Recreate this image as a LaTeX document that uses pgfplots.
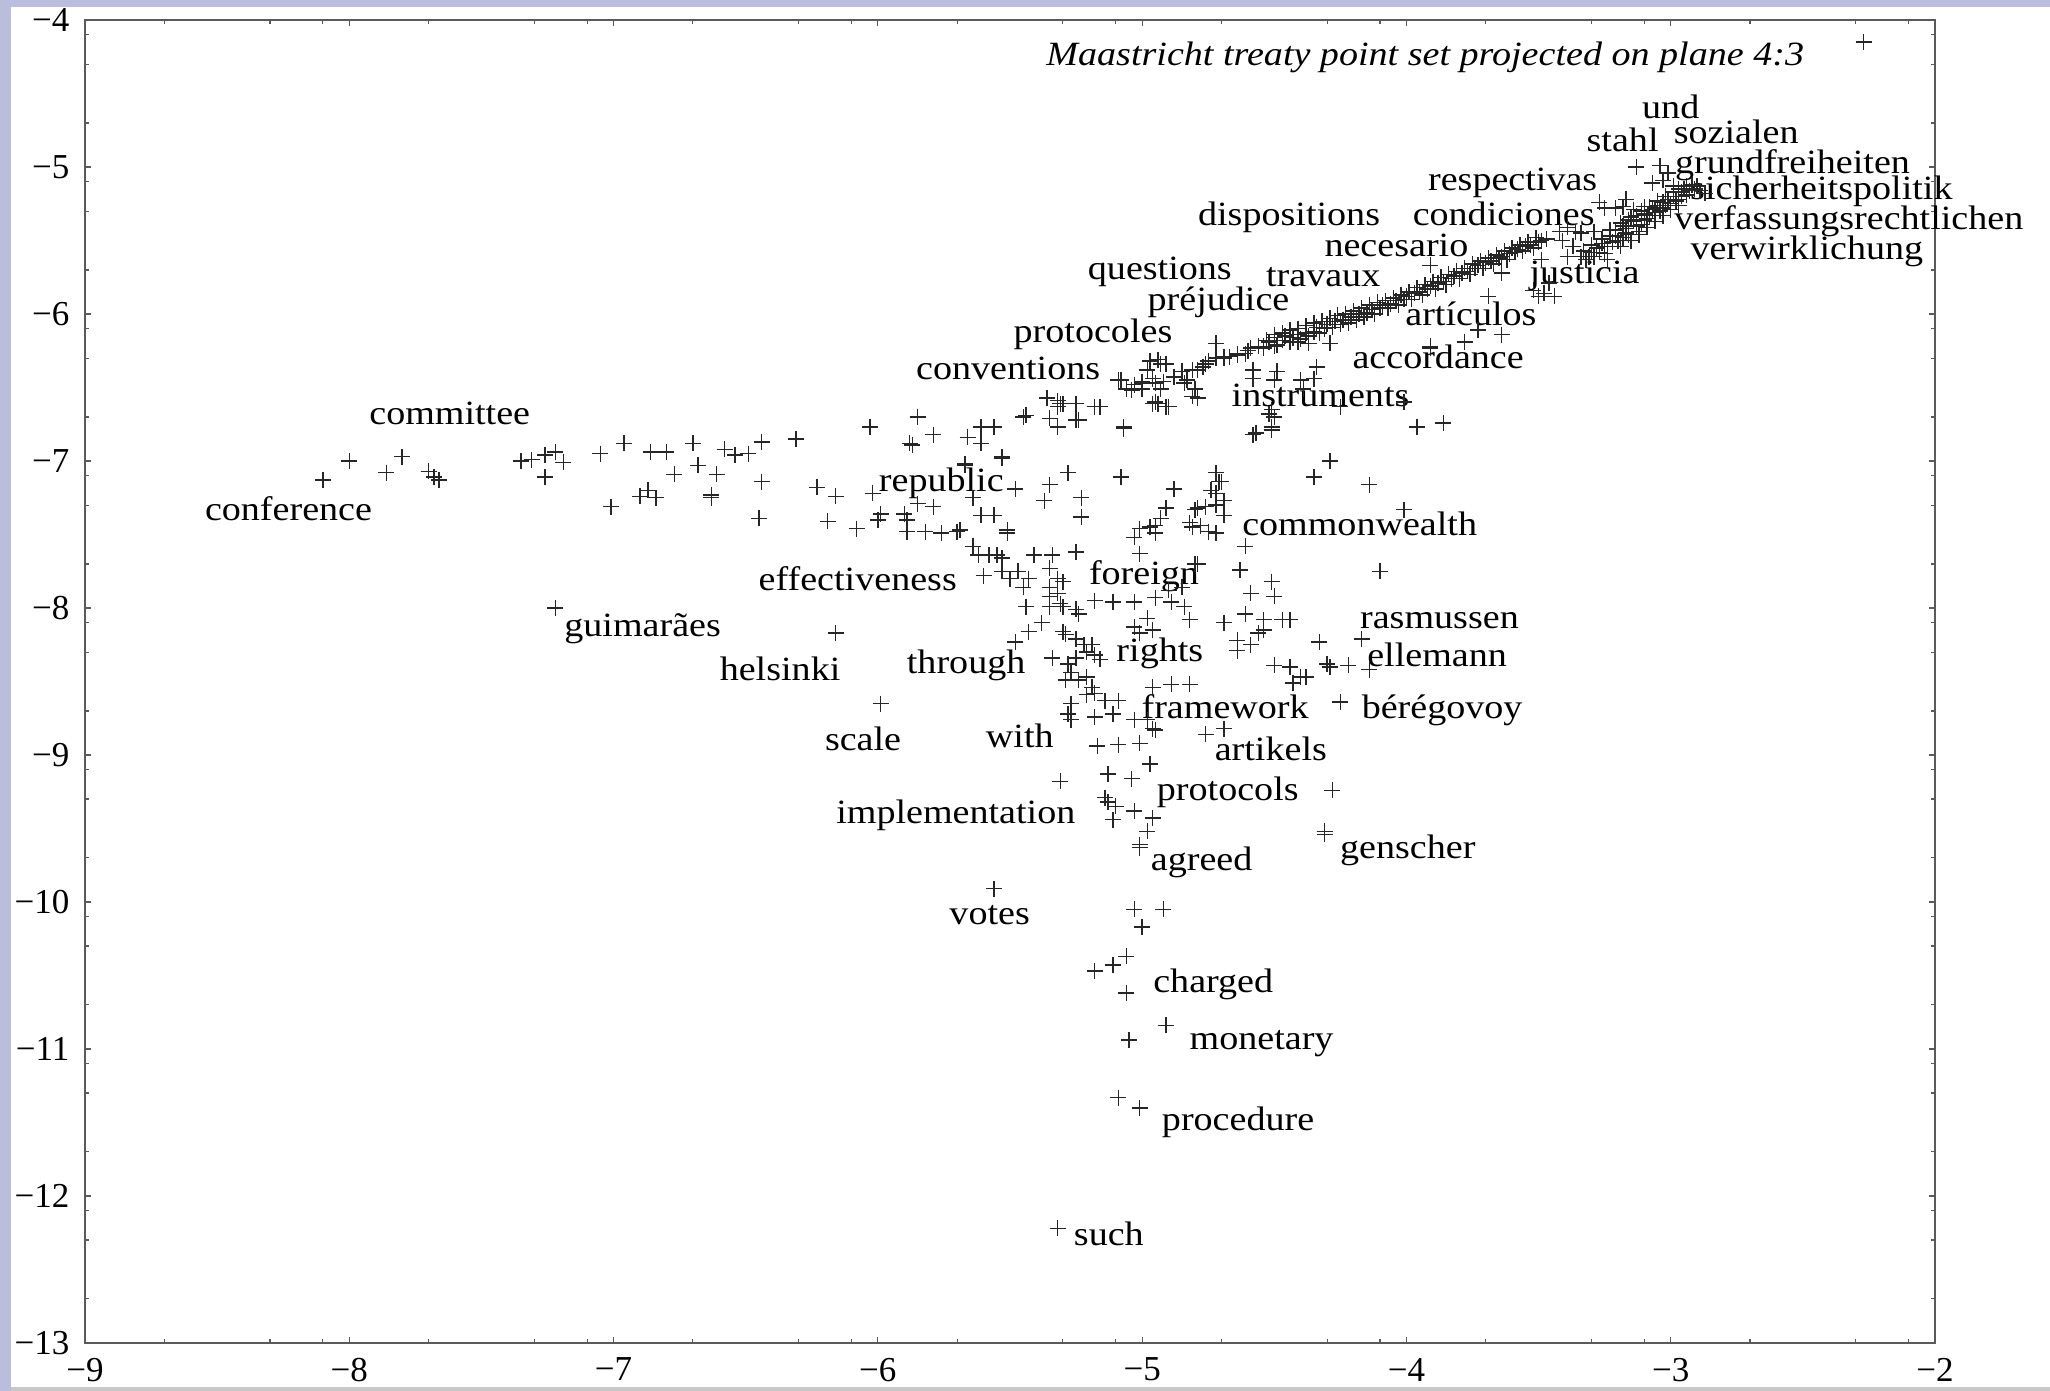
\documentclass[border=0pt]{standalone}
\usepackage{fontspec}
\setmainfont{Liberation Serif}
\newfontfamily\lbl{Liberation Serif}[FakeStretch=1.12]
\usepackage{pgfplots}
\pgfplotsset{compat=1.18}
\definecolor{lav}{RGB}{184,190,220}
\definecolor{axgray}{RGB}{90,90,90}
\begin{document}
\begin{tikzpicture}
\path[use as bounding box] (0,0) rectangle (1025pt,695.5pt);
\fill[lav] (0,0) rectangle (1025pt,695.5pt);
\fill[white] (5.5pt,2pt) rectangle (1025pt,692pt);
\fill[black!22] (5.5pt,0) rectangle (1025pt,2pt);
\begin{axis}[
  at={(42.5pt,24pt)}, anchor=south west,
  scale only axis, width=925pt, height=661.5pt,
  xmin=-9, xmax=-2, ymin=-13, ymax=-4,
  clip=false,
  axis line style={draw=axgray, line width=0.8pt},
  tick style={draw=axgray, line width=0.6pt},
  tick align=inside,
  major tick length=3pt, minor tick length=2pt,
  xtick={-9,-8,-7,-6,-5,-4,-3,-2},
  xticklabels={−9,−8,−7,−6,−5,−4,−3,−2},
  ytick={-13,-12,-11,-10,-9,-8,-7,-6,-5,-4},
  yticklabels={−13,−12,−11,−10,−9,−8,−7,−6,−5,−4},
  minor xtick={-8.7,-8.3,-8.1,-7.7,-7.3,-7.1,-6.7,-6.3,-6.1,-5.7,-5.3,-5.1,-4.7,-4.3,-4.1,-3.7,-3.3,-3.1,-2.7,-2.3,-2.1},
  minor ytick={-12.7,-12.3,-12.1,-11.7,-11.3,-11.1,-10.7,-10.3,-10.1,-9.7,-9.3,-9.1,-8.7,-8.3,-8.1,-7.7,-7.3,-7.1,-6.7,-6.3,-6.1,-5.7,-5.3,-5.1,-4.7,-4.3,-4.1},
  xticklabel style={font=\fontsize{17.5}{17.5}\selectfont, text=black, yshift=-4pt},
  yticklabel style={font=\fontsize{17.5}{17.5}\selectfont, text=black, xshift=-4.3pt},
]
\addplot[only marks, mark=+, mark size=4pt, mark options={line width=0.72pt, draw=black!85}] coordinates {
(-8.10,-7.13) (-8.00,-7.00) (-7.86,-7.08) (-7.80,-6.97) (-7.70,-7.07) (-7.68,-7.11) (-7.66,-7.13)
(-7.35,-7.00) (-7.31,-6.99) (-7.26,-6.96) (-7.22,-6.94) (-7.19,-7.01) (-7.26,-7.11)
(-7.05,-6.95) (-6.96,-6.88) (-6.86,-6.94) (-6.80,-6.94) (-6.70,-6.88) (-6.58,-6.92) (-6.54,-6.96) (-6.49,-6.95) (-6.44,-6.87) (-6.31,-6.85) (-6.03,-6.77)
(-6.77,-7.09) (-6.68,-7.03) (-6.61,-7.09) (-6.44,-7.14)
(-7.01,-7.31) (-6.90,-7.24) (-6.87,-7.20) (-6.84,-7.25) (-6.63,-7.23) (-6.63,-7.25)
(-6.45,-7.39) (-6.23,-7.18) (-6.16,-7.24) (-6.19,-7.41) (-6.08,-7.46) (-6.02,-7.22)
(-7.22,-8.00) (-6.16,-8.17) (-5.99,-8.65)
(-5.85,-6.70) (-5.88,-6.88) (-5.87,-6.89) (-5.79,-6.82) (-5.66,-6.84) (-5.61,-6.77) (-5.56,-6.77) (-5.61,-6.88) (-5.53,-6.97) (-5.67,-7.03) (-5.45,-6.70) (-5.44,-6.69)
(-5.36,-6.57) (-5.32,-6.59) (-5.32,-6.63) (-5.30,-6.61) (-5.25,-6.61) (-5.16,-6.63)
(-5.35,-6.71) (-5.32,-6.77) (-5.24,-6.72) (-5.07,-6.78)
(-5.09,-6.45) (-5.06,-6.51) (-5.03,-6.48) (-5.00,-6.46) (-5.00,-6.51) (-4.96,-6.44) (-4.95,-6.47) (-4.93,-6.51) (-4.92,-6.46)
(-4.97,-6.32) (-4.93,-6.34) (-4.95,-6.60) (-4.90,-6.63) (-4.96,-6.61)
(-4.88,-6.43) (-4.85,-6.39) (-4.83,-6.45) (-4.81,-6.38) (-4.80,-6.51) (-4.79,-6.57)
(-4.77,-6.36) (-4.75,-6.32) (-4.72,-6.30) (-4.69,-6.30) (-4.67,-6.29) (-4.64,-6.28) (-4.61,-6.27) (-4.60,-6.25) (-4.59,-6.23) (-4.56,-6.22) (-4.54,-6.23) (-4.72,-6.20)
(-4.94,-6.31) (-4.91,-6.34) (-4.98,-6.38) (-5.08,-6.45) (-5.00,-6.47) (-5.04,-6.52) (-4.84,-6.47) (-4.79,-6.38) (-4.76,-6.34) (-4.69,-6.29) (-4.64,-6.27)
(-4.94,-6.61) (-4.91,-6.63) (-4.81,-6.56) (-5.07,-6.77) (-5.31,-6.61) (-5.25,-6.72) (-5.18,-6.63)
(-4.52,-6.68) (-4.50,-6.70) (-4.57,-6.81) (-4.51,-6.77) (-4.25,-6.63) (-3.96,-6.77) (-3.86,-6.74)
(-4.47,-6.13) (-4.50,-6.22) (-4.41,-6.19) (-4.37,-6.20) (-4.29,-6.20) (-4.34,-6.36) (-4.40,-6.45) (-4.49,-6.39) (-4.58,-6.38)
(-4.58,-6.44) (-4.50,-6.45) (-4.35,-6.44) (-4.39,-6.51)
(-4.01,-6.60) (-3.91,-6.22) (-3.73,-6.11) (-3.64,-6.14) (-3.78,-6.19) (-3.91,-6.23)
(-4.29,-7.00) (-4.35,-7.11) (-4.14,-7.16) (-4.01,-7.33) (-4.10,-7.75)
(-4.54,-6.22) (-4.52,-6.19) (-4.50,-6.16) (-4.49,-6.21) (-4.47,-6.18) (-4.46,-6.15) (-4.44,-6.19) (-4.43,-6.16) (-4.41,-6.14) (-4.40,-6.17) (-4.38,-6.13) (-4.37,-6.15) (-4.35,-6.12) (-4.34,-6.09) (-4.33,-6.13) (-4.31,-6.10) (-4.30,-6.07) (-4.28,-6.09) (-4.27,-6.05) (-4.25,-6.07) (-4.24,-6.04) (-4.22,-6.06) (-4.21,-6.02) (-4.19,-6.04) (-4.18,-6.00) (-4.16,-6.02) (-4.15,-5.99) (-4.13,-5.97) (-4.12,-6.00) (-4.10,-5.96) (-4.09,-5.94) (-4.07,-5.96) (-4.06,-5.93) (-4.04,-5.91) (-4.03,-5.94) (-4.01,-5.90) (-4.00,-5.88) (-3.98,-5.90) (-3.97,-5.86) (-3.95,-5.85) (-3.94,-5.87) (-3.92,-5.83) (-3.91,-5.81) (-3.89,-5.83) (-3.88,-5.79) (-3.86,-5.78) (-3.85,-5.80) (-3.83,-5.76) (-3.82,-5.74) (-3.80,-5.76) (-3.79,-5.72) (-3.77,-5.71) (-3.76,-5.73) (-3.74,-5.69) (-3.73,-5.67) (-3.71,-5.69) (-3.70,-5.65) (-3.68,-5.64) (-3.67,-5.66) (-3.65,-5.62) (-3.64,-5.61) (-3.62,-5.63) (-3.61,-5.59) (-3.59,-5.58) (-3.58,-5.56) (-3.56,-5.57) (-3.55,-5.54) (-3.53,-5.53) (-3.52,-5.55) (-3.50,-5.51) (-3.49,-5.50) (-3.47,-5.49)
(-4.53,-6.18) (-4.50,-6.14) (-4.47,-6.13) (-4.44,-6.11) (-4.41,-6.10) (-4.38,-6.08) (-4.35,-6.06) (-4.32,-6.05) (-4.29,-6.03) (-4.26,-6.01) (-4.23,-6.00) (-4.20,-5.98) (-4.17,-5.96) (-4.14,-5.94) (-4.11,-5.92) (-4.08,-5.91) (-4.05,-5.89) (-4.02,-5.87) (-3.99,-5.85) (-3.96,-5.82) (-3.93,-5.80) (-3.90,-5.78) (-3.87,-5.75) (-3.84,-5.73) (-3.81,-5.71) (-3.78,-5.69) (-3.75,-5.66) (-3.72,-5.64) (-3.69,-5.62) (-3.66,-5.60) (-3.63,-5.57) (-3.60,-5.55) (-3.57,-5.53) (-3.54,-5.51) (-3.51,-5.48)
(-3.39,-5.41) (-3.34,-5.45) (-3.29,-5.44) (-3.41,-5.50) (-3.25,-5.54) (-3.33,-5.57) (-3.25,-5.59) (-3.31,-5.61) (-3.39,-5.61) (-3.42,-5.44) (-3.36,-5.44) (-3.37,-5.54) (-3.30,-5.53) (-3.34,-5.61) (-3.29,-5.61) (-3.24,-5.63) (-3.32,-5.63)
(-3.49,-5.63) (-3.46,-5.79) (-3.48,-5.86) (-3.44,-5.88) (-3.52,-5.84) (-3.50,-5.88) (-3.64,-5.72) (-3.69,-5.88) (-3.91,-5.67)
(-3.24,-5.54) (-3.19,-5.54) (-3.15,-5.50) (-3.12,-5.44) (-3.21,-5.47) (-3.17,-5.45) (-3.23,-5.43) (-3.19,-5.38) (-3.17,-5.42) (-3.15,-5.34) (-3.14,-5.37) (-3.14,-5.29) (-3.10,-5.36) (-3.10,-5.32) (-3.10,-5.27) (-3.06,-5.28) (-3.03,-5.28) (-3.03,-5.24) (-2.99,-5.20) (-2.96,-5.20) (-2.96,-5.17) (-2.92,-5.12) (-2.89,-5.16) (-2.87,-5.18)
(-3.08,-5.33) (-3.06,-5.31) (-3.04,-5.30) (-3.02,-5.26) (-3.00,-5.25) (-2.98,-5.23) (-2.97,-5.22) (-2.94,-5.19) (-2.93,-5.16) (-2.91,-5.15) (-3.13,-5.40) (-3.11,-5.39) (-3.09,-5.35) (-3.20,-5.50) (-3.18,-5.48) (-3.16,-5.46) (-3.27,-5.58) (-3.26,-5.52) (-3.22,-5.51) (-3.05,-5.26) (-3.01,-5.22) (-2.95,-5.15) (-2.90,-5.13) (-3.07,-5.29)
(-3.30,-5.58) (-3.28,-5.55) (-3.26,-5.49) (-3.23,-5.47) (-3.21,-5.43) (-3.18,-5.40) (-3.16,-5.36) (-3.13,-5.33) (-3.11,-5.30) (-3.08,-5.27) (-3.05,-5.23) (-3.02,-5.20) (-2.99,-5.17) (-2.97,-5.15) (-2.94,-5.13) (-3.12,-5.46) (-3.09,-5.41) (-3.06,-5.37) (-3.03,-5.33) (-3.00,-5.29) (-2.97,-5.26)
(-3.25,-5.28) (-3.18,-5.27) (-3.17,-5.22) (-3.27,-5.24) (-3.21,-5.28) (-3.13,-5.00) (-3.04,-4.99) (-3.07,-5.11) (-3.03,-5.09) (-3.01,-5.04) (-2.99,-5.13) (-2.27,-4.15)
(-4.72,-7.08) (-4.71,-7.14) (-4.74,-7.20) (-4.72,-7.22) (-4.69,-7.27) (-4.72,-7.30) (-4.69,-7.37) (-4.76,-7.31) (-4.80,-7.33) (-4.81,-7.45) (-4.78,-7.44) (-4.75,-7.48) (-4.72,-7.49) (-4.79,-7.70)
(-4.70,-7.14) (-4.79,-7.32) (-4.82,-7.42)
(-4.88,-7.19) (-4.91,-7.32) (-4.93,-7.39) (-4.95,-7.44) (-4.97,-7.45) (-5.01,-7.46) (-5.03,-7.52) (-5.01,-7.63) (-4.95,-7.49)
(-5.08,-7.11) (-5.23,-7.25) (-5.23,-7.38) (-5.28,-7.08) (-5.35,-7.16) (-5.37,-7.27) (-5.48,-7.19) (-5.53,-6.98) (-5.61,-7.37) (-5.56,-7.37) (-5.64,-7.25) (-5.67,-7.02)
(-5.51,-7.47) (-5.51,-7.49) (-5.79,-7.31) (-5.85,-7.29)
(-5.99,-7.36) (-6.00,-7.40) (-5.90,-7.36) (-5.89,-7.40) (-5.89,-7.48)
(-5.82,-7.48) (-5.76,-7.49) (-5.70,-7.48) (-5.69,-7.47)
(-5.64,-7.58) (-5.62,-7.64) (-5.58,-7.64) (-5.55,-7.64) (-5.53,-7.66)
(-5.60,-7.78) (-5.53,-7.75) (-5.50,-7.80) (-5.47,-7.75) (-5.43,-7.80) (-5.45,-7.86) (-5.41,-7.64) (-5.34,-7.64) (-5.35,-7.73) (-5.25,-7.62) (-5.32,-7.80) (-5.35,-7.86) (-5.30,-7.82) (-5.32,-7.90) (-5.35,-7.92) (-5.31,-7.97) (-5.30,-7.99) (-5.25,-8.01) (-5.24,-8.04)
(-5.44,-7.99) (-5.38,-8.10) (-5.43,-8.16) (-5.48,-8.23) (-5.35,-7.99) (-5.30,-8.16) (-5.29,-8.18) (-5.25,-8.21) (-5.22,-8.25) (-5.21,-8.30) (-5.19,-8.25) (-5.18,-8.32) (-5.16,-8.35) (-5.25,-8.34)
(-5.34,-8.34) (-5.28,-8.38) (-5.27,-8.44) (-5.29,-8.49) (-5.24,-8.49) (-5.21,-8.47) (-5.19,-8.54) (-5.21,-8.59) (-5.18,-8.58) (-5.14,-8.63) (-5.09,-8.63) (-5.27,-8.65) (-5.28,-8.72) (-5.27,-8.76) (-5.18,-8.74) (-5.11,-8.72) (-5.03,-8.76) (-4.98,-8.76) (-4.96,-8.82) (-4.95,-8.83)
(-5.18,-7.95) (-5.11,-7.96) (-5.03,-7.96) (-4.95,-7.93) (-4.89,-7.96) (-4.84,-7.99) (-4.85,-7.86) (-4.90,-7.88)
(-5.03,-8.13) (-4.98,-8.07) (-4.96,-8.15) (-5.01,-8.17) (-4.82,-8.08) (-4.69,-8.10) (-4.61,-8.04)
(-4.80,-7.70) (-4.63,-7.74) (-4.61,-7.58)
(-4.59,-7.90) (-4.51,-7.82) (-4.50,-7.92) (-4.47,-8.08) (-4.54,-8.15) (-4.56,-8.17) (-4.64,-8.22) (-4.59,-8.25) (-4.64,-8.29) (-4.54,-8.08) (-4.44,-8.08)
(-4.33,-8.23) (-4.30,-8.38) (-4.22,-8.39) (-4.17,-8.21) (-4.14,-8.42) (-4.50,-8.39) (-4.44,-8.40) (-4.38,-8.47) (-4.43,-8.51) (-4.40,-8.47) (-4.29,-8.40)
(-4.25,-8.64)
(-4.96,-8.54) (-4.89,-8.52) (-4.82,-8.52)
(-5.17,-8.94) (-5.09,-8.93) (-5.01,-8.92) (-4.76,-8.86) (-4.69,-8.82)
(-4.58,-6.82) (-4.51,-6.79) (-4.51,-6.65)
(-4.97,-9.06) (-5.13,-9.13) (-5.04,-9.16) (-5.31,-9.18) (-4.28,-9.24) (-5.14,-9.29) (-5.13,-9.32) (-5.10,-9.35) (-5.03,-9.38) (-4.96,-9.43) (-5.11,-9.44) (-4.98,-9.52) (-5.01,-9.61) (-5.01,-9.63) (-4.31,-9.54) (-4.31,-9.52)
(-5.56,-9.91) (-5.03,-10.05) (-4.92,-10.05) (-5.00,-10.17) (-5.18,-10.47) (-5.11,-10.43) (-5.06,-10.37) (-5.06,-10.62) (-4.91,-10.84) (-5.05,-10.94) (-5.09,-11.33) (-5.01,-11.40) (-5.32,-12.22)
};
\begin{scope}[every node/.style={font=\lbl\fontsize{17}{17}\selectfont, inner sep=0pt, text height=0.68em, text depth=0.2em, anchor=center, yshift=-3.2pt}]
\node at (axis cs:-3.929,-4.231) {\itshape Maastricht treaty point set projected on plane 4:3};
\node at (axis cs:-7.62,-6.675) {committee};
\node at (axis cs:-8.23,-7.33) {conference};
\node at (axis cs:-5.76,-7.13) {republic};
\node at (axis cs:-6.076,-7.807) {effectiveness};
\node at (axis cs:-4.993,-7.762) {foreign};
\node at (axis cs:-6.89,-8.115) {guimarães};
\node at (axis cs:-6.37,-8.42) {helsinki};
\node at (axis cs:-5.666,-8.367) {through};
\node at (axis cs:-4.933,-8.287) {rights};
\node at (axis cs:-4.177,-7.433) {commonwealth};
\node at (axis cs:-3.875,-8.064) {rasmussen};
\node at (axis cs:-3.884,-8.322) {ellemann};
\node at (axis cs:-4.686,-8.678) {framework};
\node at (axis cs:-3.865,-8.678) {bérégovoy};
\node at (axis cs:-6.056,-8.892) {scale};
\node at (axis cs:-5.463,-8.874) {with};
\node at (axis cs:-4.513,-8.963) {artikels};
\node at (axis cs:-4.676,-9.23) {protocols};
\node at (axis cs:-5.705,-9.39) {implementation};
\node at (axis cs:-3.995,-9.63) {genscher};
\node at (axis cs:-4.775,-9.71) {agreed};
\node at (axis cs:-5.577,-10.074) {votes};
\node at (axis cs:-4.731,-10.537) {charged};
\node at (axis cs:-4.548,-10.928) {monetary};
\node at (axis cs:-4.637,-11.48) {procedure};
\node at (axis cs:-5.126,-12.262) {such};
\node at (axis cs:-3.0,-4.596) {und};
\node at (axis cs:-3.182,-4.818) {stahl};
\node at (axis cs:-2.752,-4.765) {sozialen};
\node at (axis cs:-2.539,-4.97) {grundfreiheiten};
\node at (axis cs:-2.43,-5.147) {sicherheitspolitik};
\node at (axis cs:-2.326,-5.352) {verfassungsrechtlichen};
\node at (axis cs:-2.485,-5.556) {verwirklichung};
\node at (axis cs:-3.598,-5.085) {respectivas};
\node at (axis cs:-4.444,-5.325) {dispositions};
\node at (axis cs:-3.632,-5.325) {condiciones};
\node at (axis cs:-4.038,-5.53) {necesario};
\node at (axis cs:-4.933,-5.69) {questions};
\node at (axis cs:-4.315,-5.734) {travaux};
\node at (axis cs:-3.326,-5.717) {justicia};
\node at (axis cs:-4.711,-5.903) {préjudice};
\node at (axis cs:-3.756,-6.001) {artículos};
\node at (axis cs:-5.186,-6.117) {protocoles};
\node at (axis cs:-3.88,-6.295) {accordance};
\node at (axis cs:-5.507,-6.366) {conventions};
\node at (axis cs:-4.325,-6.553) {instruments};
\end{scope}
\end{axis}
\end{tikzpicture}
\end{document}
